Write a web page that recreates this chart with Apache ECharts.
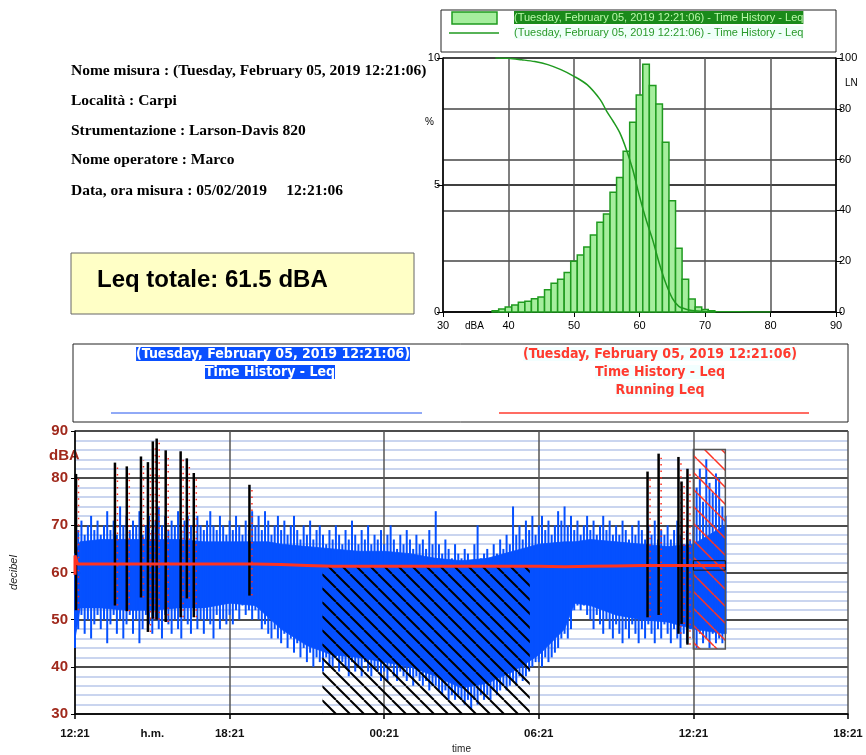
<!DOCTYPE html>
<html>
<head>
<meta charset="utf-8">
<script src="https://cdn.jsdelivr.net/npm/echarts@6/dist/echarts.min.js"></script>
<style>
  html, body { margin: 0; padding: 0; background: #fff; }
  #main { width: 866px; height: 755px; }
</style>
</head>
<body>
<div id="main"></div>
<script>
// istogramma livelli (% per classe di 1 dB) + curva LN
var binDb = [38, 39, 40, 41, 42, 43, 44, 45, 46, 47, 48, 49, 50, 51, 52, 53, 54, 55, 56, 57, 58, 59, 60, 61, 62, 63, 64, 65, 66, 67, 68, 69, 70, 71];
var binPct = [0.05, 0.12, 0.2, 0.28, 0.38, 0.42, 0.52, 0.59, 0.88, 1.13, 1.29, 1.56, 2.0, 2.24, 2.56, 3.03, 3.53, 3.86, 4.71, 5.30, 6.33, 7.47, 8.54, 9.75, 8.92, 8.19, 6.68, 4.38, 2.51, 1.29, 0.51, 0.2, 0.1, 0.05];
var lnDb = [38, 40, 42, 44, 46, 48, 50, 52, 54, 55, 56, 57, 58, 59, 60, 61, 62, 63, 64, 65, 66, 67, 68, 70, 72, 75, 80];
var lnPct = [100, 99.9, 99.3, 98.6, 97.4, 95.4, 92.8, 89.5, 83.6, 79, 75, 70.5, 63.9, 55.8, 45.5, 36.4, 28.5, 19.3, 11.4, 5.5, 2.2, 1.2, 0.6, 0.2, 0.1, 0.05, 0];

// time history: ore dall'inizio (12:21)
var timeTicks = [0, 6, 12, 18, 24, 30];
var timeLabels = ['12:21', '18:21', '00:21', '06:21', '12:21', '18:21'];

// fascia densa del segnale
var coreTime = [0, 0.2, 1, 2, 3, 4, 5, 6, 7, 7.5, 8, 9, 10, 11, 12, 13, 14, 15, 16, 17, 18, 19, 19.4, 20, 21, 22, 23, 24, 25.24];
var coreHigh = [64, 66.5, 67, 67, 67, 67, 66.5, 66.5, 66.5, 66.5, 66, 65.5, 65, 64.5, 64.5, 64, 63, 62.5, 63, 64.5, 66, 66.5, 66.5, 67, 66.5, 66, 65.5, 66, 70];
var coreLow = [46, 52.5, 52.5, 52, 52, 52.5, 52.5, 53.5, 53, 50.5, 48, 44.5, 42.5, 42, 41, 40, 38, 35.5, 36.5, 39, 42.5, 48, 53.5, 53, 51, 50, 49.5, 48, 47];

// massimi/minimi istantanei ogni 7.5 minuti (una riga = un'ora)
var sampleStep = 0.125;
var leqHigh = [
  64, 69, 71, 68, 70, 72, 69, 71,
  68, 70, 73, 69, 71, 68, 74, 70,
  72, 69, 71, 70, 73, 68, 70, 72,
  69, 71, 74, 70, 72, 69, 71, 70,
  73, 69, 71, 72, 70, 68, 72, 70,
  69, 71, 73, 70, 69, 72, 70, 68,
  71, 69, 72, 70, 68, 71, 69, 73,
  70, 72, 69, 73, 71, 68, 70, 72,
  69, 71, 68, 70, 72, 69, 67, 70,
  68, 71, 67, 69, 70, 68, 66, 69,
  67, 70, 68, 66, 69, 67, 71, 68,
  66, 69, 67, 70, 66, 68, 67, 69,
  66, 68, 70, 67, 65, 68, 66, 69,
  67, 65, 68, 66, 67, 65, 69, 66,
  73, 66, 64, 67, 65, 63, 66, 64,
  63, 65, 64, 62, 66, 70, 63, 64,
  65, 63, 66, 64, 67, 65, 68, 66,
  74, 68, 70, 67, 71, 69, 72, 68,
  70, 72, 69, 71, 68, 70, 73, 71,
  74, 70, 72, 69, 71, 68, 70, 72,
  69, 71, 68, 70, 72, 69, 71, 68,
  70, 68, 71, 69, 67, 70, 68, 71,
  69, 67, 70, 68, 71, 67, 69, 68,
  70, 67, 69, 71, 68, 66, 69, 67,
  70, 78, 82, 75, 84, 79, 77, 81,
  80, 74, 72];
var leqLow = [
  44, 48, 51, 47, 50, 46, 49, 51,
  48, 50, 45, 49, 51, 47, 50, 46,
  49, 51, 47, 50, 45, 48, 51, 49,
  47, 50, 48, 46, 51, 49, 47, 50,
  48, 46, 50, 49, 47, 51, 48, 50,
  47, 50, 49, 46, 51, 48, 50, 49,
  51, 49, 52, 50, 53, 51, 52, 50,
  52, 50, 48, 49, 47, 46, 48, 46,
  45, 47, 44, 46, 43, 45, 42, 44,
  41, 43, 40, 42, 41, 39, 42, 40,
  40, 42, 39, 41, 40, 38, 41, 39,
  40, 38, 41, 39, 38, 40, 39, 37,
  39, 37, 40, 38, 37, 39, 38, 37,
  38, 36, 38, 37, 36, 37, 35, 36,
  36, 35, 34, 35, 33, 34, 33, 34,
  33, 32, 33, 31, 33, 32, 34, 33,
  34, 33, 35, 34, 35, 36, 35, 36,
  37, 36, 38, 37, 38, 39, 40, 41,
  41, 40, 42, 41, 42, 43, 44, 46,
  47, 46, 48, 52, 53, 52, 53, 51,
  50, 48, 51, 49, 47, 50, 48, 46,
  49, 47, 45, 48, 46, 49, 47, 45,
  48, 46, 49, 47, 45, 48, 46, 49,
  47, 45, 48, 46, 44, 47, 45, 48,
  46, 44, 47, 45, 46, 44, 47, 45,
  46, 45, 47];

// running Leq
var runTime = [0, 0, 0.1, 2, 4, 6, 7, 8, 9, 10, 12, 14, 16, 18, 19, 20, 21, 22, 23, 24, 25.24];
var runLeq = [59.5, 63.6, 61.8, 61.8, 61.8, 61.8, 61.8, 61.7, 61.5, 61.3, 61.3, 61.3, 61.3, 61.3, 61.2, 61.3, 61.4, 61.5, 61.5, 61.5, 61.5];

// eventi marcati (picchi)
var eventTime = [0.04, 1.55, 2.01, 2.56, 2.83, 3.02, 3.17, 3.52, 4.10, 4.34, 4.61, 6.77, 22.22, 22.65, 23.42, 23.54, 23.77];
var eventHigh = [80.9, 83.3, 82.5, 84.6, 83.4, 87.8, 88.4, 85.9, 85.7, 84.2, 81.1, 78.6, 81.4, 85.2, 84.5, 79.3, 82.0];
var eventLow = [52, 53, 51.8, 54.7, 47.4, 50.2, 50, 49.5, 50.5, 54.5, 50.5, 55.1, 50.5, 51, 47, 49.1, 44.7];

// zone escluse [inizio, fine, min, max]
var nightZone = [9.6, 17.65, 30, 61.1];
var markZone = [24.0, 25.24, 43.8, 86.1];
var markBox = [60.5, 62.5];

var infoLines = [
  'Nome misura : (Tuesday, February 05, 2019 12:21:06)',
  'Località : Carpi',
  'Strumentazione : Larson-Davis 820',
  'Nome operatore : Marco',
  'Data, ora misura : 05/02/2019     12:21:06'
];
var measName = '(Tuesday, February 05, 2019 12:21:06)';

function makeHatch(color, size, lw) {
  var c = document.createElement('canvas');
  c.width = size; c.height = size;
  var g = c.getContext('2d');
  g.strokeStyle = color;
  g.lineWidth = lw;
  g.beginPath();
  for (var k = -1; k <= 1; k++) {
    g.moveTo(k * size, 0);
    g.lineTo(k * size + size, size);
  }
  g.stroke();
  return c;
}
var blackHatch = makeHatch('#000', 14, 2);
var redHatch = makeHatch('#ff3322', 17, 1.5);

var coreData = coreTime.map(function (t, i) { return [t, coreLow[i], coreHigh[i]]; });
var peakData = leqHigh.map(function (h, i) { return [i * sampleStep, leqLow[i], h]; });
var runData = runTime.map(function (t, i) { return [t, runLeq[i]]; });

var chart = echarts.init(document.getElementById('main'), null, { renderer: 'canvas' });

var legendFont = 'bold 14px "Liberation Sans Narrow", "DejaVu Sans Condensed", sans-serif';
var graphics = [];
infoLines.forEach(function (s, i) {
  graphics.push({
    type: 'text', left: 71, top: [63, 93, 123, 152, 183][i],
    style: { text: s, font: 'bold 15.5px "Liberation Serif", serif', fill: '#000' }
  });
});
graphics.push(
  { type: 'rect', shape: { x: 71, y: 253, width: 343, height: 61 },
    style: { fill: '#ffffc6', stroke: '#666', lineWidth: 1 } },
  { type: 'text', left: 97, top: 268,
    style: { text: 'Leq totale: 61.5 dBA', font: 'bold 24px "Liberation Sans", Arial, sans-serif', fill: '#000' } },
  // legenda istogramma
  { type: 'rect', shape: { x: 441, y: 10, width: 395, height: 42 },
    style: { fill: '#fff', stroke: '#222', lineWidth: 1 } },
  { type: 'rect', shape: { x: 452, y: 12, width: 45, height: 12 },
    style: { fill: '#a6ee9e', stroke: '#1f9a1f', lineWidth: 1.5 } },
  { type: 'text', left: 514, top: 11,
    style: { text: measName + ' - Time History - Leq', font: '11px "Liberation Sans", Arial, sans-serif',
      fill: '#b8f7a8', backgroundColor: '#1a8a1a', padding: [1, 0, 1, 0] } },
  { type: 'line', shape: { x1: 449, y1: 33, x2: 499, y2: 33 },
    style: { stroke: '#1f9a1f', lineWidth: 1.5 } },
  { type: 'text', left: 514, top: 26,
    style: { text: measName + ' - Time History - Leq', font: '11px "Liberation Sans", Arial, sans-serif',
      fill: '#2a9a2a', backgroundColor: '#effff9', padding: [1, 0, 1, 0] } },
  { type: 'text', left: 425, top: 117, style: { text: '%', font: '10px "Liberation Sans", Arial, sans-serif', fill: '#000' } },
  { type: 'text', left: 845, top: 78, style: { text: 'LN', font: '10px "Liberation Sans", Arial, sans-serif', fill: '#000' } },
  { type: 'text', left: 465, top: 321, style: { text: 'dBA', font: '10px "Liberation Sans", Arial, sans-serif', fill: '#000' } },
  // legenda time history
  { type: 'rect', shape: { x: 73, y: 344, width: 775, height: 78 },
    style: { fill: '#fff', stroke: '#222', lineWidth: 1 } },
  { type: 'text', x: 273, y: 354,
    style: { text: measName, align: 'center', verticalAlign: 'middle', font: legendFont,
      fill: '#fff', backgroundColor: '#0a50ff' } },
  { type: 'text', x: 270, y: 372,
    style: { text: 'Time History - Leq', align: 'center', verticalAlign: 'middle', font: legendFont,
      fill: '#fff', backgroundColor: '#0a50ff' } },
  { type: 'line', shape: { x1: 111, y1: 413, x2: 422, y2: 413 },
    style: { stroke: '#2255ee', lineWidth: 1 } },
  { type: 'text', x: 660, y: 354,
    style: { text: measName, align: 'center', verticalAlign: 'middle', font: legendFont,
      fill: '#ff3b2f', backgroundColor: '#f2ffff' } },
  { type: 'text', x: 660, y: 372,
    style: { text: 'Time History - Leq', align: 'center', verticalAlign: 'middle', font: legendFont,
      fill: '#ff3b2f', backgroundColor: '#f2ffff' } },
  { type: 'text', x: 660, y: 390,
    style: { text: 'Running Leq', align: 'center', verticalAlign: 'middle', font: legendFont,
      fill: '#ff3b2f', backgroundColor: '#f2ffff' } },
  { type: 'line', shape: { x1: 499, y1: 413, x2: 809, y2: 413 },
    style: { stroke: '#ff3b2f', lineWidth: 1.5 } },
  { type: 'text', left: 49, top: 448,
    style: { text: 'dBA', font: 'bold 15px "Liberation Sans", Arial, sans-serif', fill: '#a0291c' } }
);

var smallFont = { fontFamily: 'Liberation Sans', fontSize: 11, color: '#000' };
var timeLabelStyle = { margin: 14, fontFamily: 'Liberation Sans', fontWeight: 'bold', fontSize: 11.5, color: '#111' };
var blue = '#0550ff';

var option = {
  animation: false,
  backgroundColor: '#fff',
  graphic: graphics,
  grid: [
    { left: 443, top: 58, width: 393, height: 254 },
    { left: 73, top: 431, width: 775, height: 287 }
  ],
  xAxis: [
    {
      gridIndex: 0, type: 'value', min: 30, max: 90, interval: 10,
      axisLine: { lineStyle: { color: '#000', width: 1.5 } },
      axisTick: { show: true, length: 5, lineStyle: { color: '#000' } },
      axisLabel: Object.assign({ margin: 8 }, smallFont),
      splitLine: { show: true, lineStyle: { color: '#555', width: 1.5 } }
    },
    {
      gridIndex: 1, type: 'value', min: 0, max: 30, interval: 6, position: 'bottom',
      name: 'time', nameLocation: 'middle', nameGap: 30,
      nameTextStyle: { fontFamily: 'Liberation Sans', fontSize: 10, color: '#222' },
      axisLine: { lineStyle: { color: '#000', width: 1.5 } },
      axisTick: { show: true, length: 5, lineStyle: { color: '#000', width: 1.5 } },
      axisLabel: Object.assign({
        formatter: function (v) { var k = timeTicks.indexOf(v); return k < 0 ? '' : timeLabels[k]; }
      }, timeLabelStyle),
      splitLine: { show: true, lineStyle: { color: '#555', width: 1.5 } }
    },
    {
      gridIndex: 1, type: 'value', min: 0, max: 30, interval: 3, position: 'bottom', offset: 0,
      axisLine: { show: false }, axisTick: { show: false }, splitLine: { show: false },
      axisLabel: Object.assign({
        formatter: function (v) { return v === 3 ? 'h.m.' : ''; }
      }, timeLabelStyle)
    }
  ],
  yAxis: [
    {
      gridIndex: 0, type: 'value', min: 0, max: 10, interval: 5,
      axisLine: { show: true, lineStyle: { color: '#000', width: 1.5 } },
      axisTick: { show: true, length: 6, lineStyle: { color: '#000' } },
      axisLabel: Object.assign({ margin: 3 }, smallFont),
      splitLine: { show: true, lineStyle: { color: '#000', width: 1.5 } }
    },
    {
      gridIndex: 0, type: 'value', min: 0, max: 100, interval: 20, position: 'right',
      axisLine: { show: true, lineStyle: { color: '#000', width: 1.5 } },
      axisTick: { show: true, length: 6, lineStyle: { color: '#000' } },
      axisLabel: Object.assign({ margin: 3 }, smallFont),
      splitLine: { show: true, lineStyle: { color: '#444', width: 1.5 } }
    },
    {
      gridIndex: 1, type: 'value', min: 30, max: 90, interval: 10,
      name: 'decibel', nameLocation: 'middle', nameGap: 56, nameRotate: 90,
      nameTextStyle: { fontFamily: 'Liberation Sans', fontSize: 11, fontStyle: 'italic', color: '#222' },
      axisLine: { show: true, lineStyle: { color: '#000', width: 1.5 } },
      axisTick: { show: true, length: 4, lineStyle: { color: '#000' } },
      axisLabel: { margin: 7, fontFamily: 'Liberation Sans', fontWeight: 'bold', fontSize: 15, color: '#a0291c' },
      splitLine: { show: true, lineStyle: { color: '#111', width: 1.5 } },
      minorTick: { show: false, splitNumber: 5 },
      minorSplitLine: { show: true, lineStyle: { color: '#b9c8ea', width: 1.5 } }
    }
  ],
  series: [
    {
      name: 'istogramma', type: 'custom', xAxisIndex: 0, yAxisIndex: 0, z: 3,
      data: binDb.map(function (d, i) { return [d, binPct[i]]; }),
      encode: { x: 0, y: 1 },
      renderItem: function (params, api) {
        var a = api.coord([api.value(0) - 0.5, api.value(1)]);
        var b = api.coord([api.value(0) + 0.5, 0]);
        return {
          type: 'rect',
          shape: { x: a[0], y: a[1], width: b[0] - a[0], height: b[1] - a[1] },
          style: { fill: '#a6ee9e', stroke: '#1f9a1f', lineWidth: 1.5 }
        };
      }
    },
    {
      name: 'LN', type: 'line', xAxisIndex: 0, yAxisIndex: 1, z: 4,
      smooth: 0.3, showSymbol: false,
      lineStyle: { color: '#1f9a1f', width: 1.5 },
      data: lnDb.map(function (d, i) { return [d, lnPct[i]]; })
    },
    {
      // fascia densa: un quadrilatero tra due punti consecutivi
      name: 'Time History - Leq', type: 'custom', xAxisIndex: 1, yAxisIndex: 2, z: 2,
      data: coreData,
      encode: { x: 0, y: [1, 2] },
      renderItem: function (params, api) {
        var i = params.dataIndex;
        if (i >= coreData.length - 1) return null;
        var n = coreData[i + 1];
        var p1 = api.coord([api.value(0), api.value(1)]);
        var p2 = api.coord([api.value(0), api.value(2)]);
        var p3 = api.coord([n[0], n[2]]);
        var p4 = api.coord([n[0], n[1]]);
        return {
          type: 'polygon',
          shape: { points: [p1, p2, p3, p4] },
          style: { fill: blue, stroke: blue, lineWidth: 0.8 }
        };
      }
    },
    {
      // picchi min/max di ogni campione
      name: 'picchi', type: 'custom', xAxisIndex: 1, yAxisIndex: 2, z: 2,
      data: peakData,
      encode: { x: 0, y: [1, 2] },
      renderItem: function (params, api) {
        var lo = api.coord([api.value(0), api.value(1)]);
        var hi = api.coord([api.value(0), api.value(2)]);
        return {
          type: 'line',
          shape: { x1: lo[0], y1: lo[1], x2: hi[0], y2: hi[1] },
          style: { stroke: blue, lineWidth: 2 }
        };
      }
    },
    {
      name: 'eventi', type: 'custom', xAxisIndex: 1, yAxisIndex: 2, z: 3,
      data: eventTime.map(function (t, i) { return [t, eventLow[i], eventHigh[i]]; }),
      encode: { x: 0, y: [1, 2] },
      renderItem: function (params, api) {
        var lo = api.coord([api.value(0), api.value(1)]);
        var hi = api.coord([api.value(0), api.value(2)]);
        return {
          type: 'group',
          children: [
            { type: 'line', shape: { x1: lo[0], y1: lo[1], x2: hi[0], y2: hi[1] },
              style: { stroke: '#000', lineWidth: 2.5 } },
            { type: 'line', shape: { x1: lo[0] + 2.5, y1: lo[1], x2: hi[0] + 2.5, y2: hi[1] + 4 },
              style: { stroke: '#ff2a1a', lineWidth: 1.5, lineDash: [1.5, 5] } }
          ]
        };
      }
    },
    {
      name: 'zone', type: 'custom', xAxisIndex: 1, yAxisIndex: 2, z: 4,
      data: [nightZone.concat([0]), markZone.concat([1])],
      encode: { x: [0, 1], y: [2, 3] },
      renderItem: function (params, api) {
        var a = api.coord([api.value(0), api.value(3)]);
        var b = api.coord([api.value(1), api.value(2)]);
        var rect = { x: a[0], y: a[1], width: b[0] - a[0], height: b[1] - a[1] };
        if (api.value(4) === 0) {
          return { type: 'rect', shape: rect,
            style: { fill: { type: 'pattern', image: blackHatch, repeat: 'repeat' } } };
        }
        var c = api.coord([api.value(0), markBox[1]]);
        var d = api.coord([api.value(1), markBox[0]]);
        return {
          type: 'group',
          children: [
            { type: 'rect', shape: rect,
              style: { fill: { type: 'pattern', image: redHatch, repeat: 'repeat' }, stroke: '#555', lineWidth: 1.5 } },
            { type: 'rect', shape: { x: c[0], y: c[1], width: d[0] - c[0], height: d[1] - c[1] },
              style: { fill: 'none', stroke: '#111', lineWidth: 1 } }
          ]
        };
      }
    },
    {
      name: 'Running Leq', type: 'line', xAxisIndex: 1, yAxisIndex: 2, z: 5,
      showSymbol: false,
      lineStyle: { color: '#ff3322', width: 3 },
      data: runData
    }
  ]
};

chart.setOption(option);
</script>
</body>
</html>
